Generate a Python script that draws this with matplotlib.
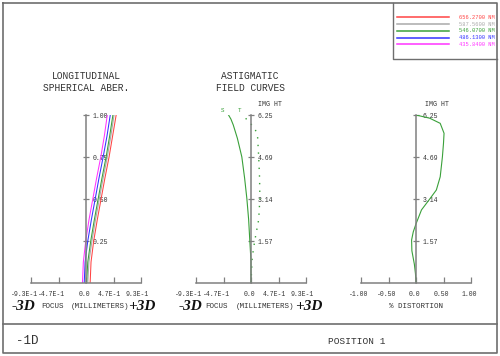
import matplotlib.pyplot as plt
import matplotlib.transforms as mtransforms
import numpy as np

plt.rcParams['font.family'] = ['Liberation Mono', 'DejaVu Sans Mono']

# wavelengths (legend) and colours
wavelengths = ["656.2700 NM", "587.5600 NM", "546.0700 NM", "486.1300 NM", "435.8400 NM"]
wl_colors = ["#ff4444", "#aaaaaa", "#3aa03a", "#3333ff", "#ff33ff"]

# longitudinal spherical aberration: relative pupil vs focus shift (mm)
pupil = [0, 0.125, 0.25, 0.375, 0.5, 0.625, 0.75, 0.875, 1.0]
sph_red = [0.07, 0.085, 0.13, 0.19, 0.255, 0.32, 0.39, 0.45, 0.51]
sph_gray = [0.03, 0.05, 0.10, 0.16, 0.225, 0.29, 0.36, 0.42, 0.475]
sph_green = [0.01, 0.03, 0.08, 0.14, 0.205, 0.27, 0.34, 0.40, 0.455]
sph_blue = [-0.03, -0.015, 0.03, 0.09, 0.155, 0.22, 0.29, 0.355, 0.41]
sph_magenta = [-0.06, -0.045, -0.005, 0.05, 0.115, 0.18, 0.25, 0.31, 0.36]
sph_series = [sph_red, sph_gray, sph_green, sph_blue, sph_magenta]

# astigmatic field curves: image height vs focus (mm)
sag_h = [0, 0.8, 1.57, 2.36, 3.14, 3.9, 4.69, 5.38, 5.88, 6.1, 6.25]
sag_x = [0, 0, -0.02, -0.04, -0.07, -0.108, -0.155, -0.23, -0.30, -0.34, -0.38]
tan_h = [0, 0.94, 1.57, 2.36, 3.14, 3.9, 4.69, 5.5, 5.77, 6.1, 6.25]
tan_x = [0, 0.02, 0.063, 0.13, 0.15, 0.145, 0.13, 0.11, 0.06, -0.08, -0.12]

# distortion: image height vs % distortion
dist_h = [0, 0.35, 0.7, 1.2, 1.6, 1.9, 2.2, 2.72, 3.14, 3.46, 3.95, 4.69, 5.2, 5.57, 5.94, 6.13, 6.25]
dist_d = [0, -0.01, -0.03, -0.075, -0.08, -0.05, 0, 0.10, 0.255, 0.37, 0.44, 0.48, 0.50, 0.51, 0.44, 0.25, 0]

focus_ticks = [-0.93, -0.465, 0, 0.465, 0.93]
focus_labels = ["-9.3E-1", "-4.7E-1", "0.0", "4.7E-1", "9.3E-1"]
dist_ticks = [-1, -0.5, 0, 0.5, 1]
dist_labels = ["-1.00", "-0.50", "0.0", "0.50", "1.00"]
pupil_ticks = [0.25, 0.5, 0.75, 1.0]
pupil_labels = ["0.25", "0.50", "0.75", "1.00"]
ht_ticks = [6.25 * k / 4 for k in (1, 2, 3, 4)]
ht_labels = ["1.57", "3.14", "4.69", "6.25"]

W, H = 500, 356
AXIS_C = "#808080"
TXT_C = "#333333"
GREEN = "#3aa03a"

fig = plt.figure(figsize=(W / 100, H / 100), dpi=100)

# background axes in pixel coordinates for the frame and captions
ax0 = fig.add_axes([0, 0, 1, 1])
ax0.set_xlim(0, W)
ax0.set_ylim(H, 0)
ax0.axis('off')
frame_c = "#6e6e6e"
ax0.plot([3, 497, 497, 3, 3], [3, 3, 353, 353, 3], color=frame_c, lw=1.2)
ax0.plot([3, 497], [324, 324], color=frame_c, lw=1.2)
ax0.plot([393, 393, 497], [3, 59, 59], color=frame_c, lw=1.0)

# legend
for i, (lab, c) in enumerate(zip(wavelengths, wl_colors)):
    y = 17.3 + i * 6.75
    ax0.plot([397, 449], [y, y], color=c, lw=1.1)
    ax0.text(459, y, lab, color=c, fontsize=3.9, ha='left', va='center')


def make_axes(px_left, xlim, xticks, xlabels, ymax, yticks, ylabels):
    ax = fig.add_axes([px_left / W, (H - 283) / H, 110 / W, 168 / H])
    ax.patch.set_alpha(0)
    ax.set_xlim(*xlim)
    ax.set_ylim(0, ymax)
    ax.spines['top'].set_visible(False)
    ax.spines['left'].set_visible(False)
    ax.spines['right'].set_position(('data', 0))
    for s in ('right', 'bottom'):
        ax.spines[s].set_color(AXIS_C)
        ax.spines[s].set_linewidth(1.1)
    ax.yaxis.set_ticks_position('right')
    ax.set_xticks(xticks)
    ax.set_xticklabels(xlabels)
    ax.set_yticks(yticks)
    ax.set_yticklabels(ylabels)
    ax.tick_params(axis='x', direction='in', length=4.3, width=0.9,
                   color=AXIS_C, labelsize=4.7, labelcolor=TXT_C, pad=6)
    ax.tick_params(axis='y', direction='inout', length=5, width=0.9,
                   color=AXIS_C, labelsize=4.7, labelcolor=TXT_C, pad=2)
    # the original program sets its tick labels a little left of the ticks
    for lab in ax.get_xticklabels():
        t = lab.get_text()
        dx = -2
        if 'E' in t:
            dx = -7 if t.startswith('-') else -4
        lab.set_transform(lab.get_transform() +
                          mtransforms.ScaledTranslation(dx / 100, 0, fig.dpi_scale_trans))
    return ax


# longitudinal spherical aberration
ax1 = make_axes(31, (-0.93, 0.93), focus_ticks, focus_labels, 1.0, pupil_ticks, pupil_labels)
for vals, c in zip(sph_series, wl_colors):
    ax1.plot(vals, pupil, color=c, lw=0.75)

# astigmatic field curves
ax2 = make_axes(196, (-0.93, 0.93), focus_ticks, focus_labels, 6.25, ht_ticks, ht_labels)
ax2.plot(sag_x, sag_h, color=GREEN, lw=0.8)
ax2.plot(tan_x, tan_h, color=GREEN, lw=1.0, linestyle=(0, (1, 4.5)))
ax2.text(-0.48, 6.42, "S", color=GREEN, fontsize=4.2, ha='center', va='center', clip_on=False)
ax2.text(-0.19, 6.42, "T", color=GREEN, fontsize=4.2, ha='center', va='center', clip_on=False)

# distortion
ax3 = make_axes(361, (-1, 1), dist_ticks, dist_labels, 6.25, ht_ticks, ht_labels)
ax3.plot(dist_d, dist_h, color=GREEN, lw=0.8)

# titles and captions
title_kw = dict(fontsize=6.9, color=TXT_C, ha='center', va='center')
ax0.text(86, 76, "LONGITUDINAL", **title_kw)
ax0.text(86, 88, "SPHERICAL ABER.", **title_kw)
ax0.text(250, 76, "ASTIGMATIC", **title_kw)
ax0.text(250, 88, "FIELD CURVES", **title_kw)
ax0.text(270, 105, "IMG HT", fontsize=4.8, color=TXT_C, ha='center', va='center')
ax0.text(437, 105, "IMG HT", fontsize=4.8, color=TXT_C, ha='center', va='center')

big_kw = dict(family='Liberation Serif', fontweight='bold', fontstyle='italic',
              fontsize=11, color='#111111', ha='center', va='center')
small_kw = dict(fontsize=5.4, color=TXT_C, ha='center', va='center')
for x_m, x_f, x_mm, x_p in [(23.5, 52, 100.5, 141.5), (190.5, 216, 265, 309)]:
    ax0.text(x_m, 306, "-3D", **big_kw)
    ax0.text(x_f, 306, "FOCUS", **small_kw)
    ax0.text(x_mm, 306, "(MILLIMETERS)", **small_kw)
    ax0.text(x_p, 306, "+3D", **big_kw)
ax0.text(416, 306, "% DISTORTION", **small_kw)

ax0.text(16, 341, "-1D", fontsize=9, color=TXT_C, ha='left', va='center')
ax0.text(356.5, 341, "POSITION 1", fontsize=6.8, color=TXT_C, ha='center', va='center')

fig.savefig("out.png", dpi=100, facecolor='white')
